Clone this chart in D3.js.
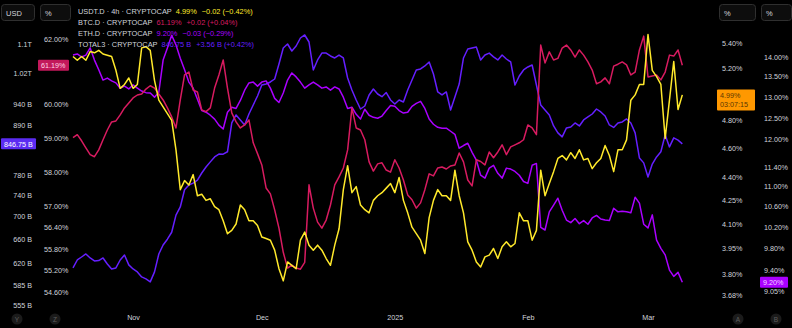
<!DOCTYPE html>
<html><head><meta charset="utf-8">
<script src="https://cdn.jsdelivr.net/npm/d3@7"></script>
<style>
html,body{margin:0;padding:0;background:#000;overflow:hidden}
svg{display:block;font-family:"Liberation Sans",Arial,sans-serif}
</style></head><body>
<svg id="c" width="792" height="328"></svg>
<script>
// ---------- DATA (daily samples from 2024-10-18) ----------
const startDate = "2024-10-18";
const usdtValues = [5.29,5.26,5.29,5.26,5.33,5.32,5.34,5.31,5.30,5.29,
 5.18,5.04,5.07,5.12,5.04,5.07,5.36,5.37,5.34,5.10,
 4.95,4.90,4.85,4.80,4.59,4.32,4.38,4.35,4.42,4.28,
 4.29,4.25,4.26,4.21,4.19,4.12,4.04,4.06,4.10,4.22,
 4.19,4.12,4.12,4.09,4.02,4.01,4.00,3.94,3.83,3.76,
 3.87,3.85,3.83,4.00,4.05,3.97,3.94,3.97,3.94,3.89,
 3.85,3.97,4.07,4.32,4.48,4.30,4.34,4.22,4.19,4.17,
 4.25,4.28,4.30,4.33,4.36,4.30,4.40,4.25,4.17,4.08,
 4.04,4.00,3.92,4.14,4.25,4.32,4.28,4.28,4.25,4.45,
 4.28,4.17,3.99,3.94,3.87,3.84,3.90,3.91,3.95,3.89,
 3.96,3.99,3.96,3.98,4.17,4.12,4.12,4.00,4.06,4.45,
 4.28,4.36,4.44,4.53,4.55,4.52,4.57,4.53,4.59,4.52,
 4.53,4.46,4.50,4.53,4.62,4.55,4.44,4.59,4.59,4.66,
 4.95,4.99,5.07,5.07,5.47,5.18,5.13,5.07,4.67,4.95,
 5.25,4.88,4.99];
const btcValues = [59.00,59.09,58.91,58.70,58.50,58.44,58.64,58.94,59.23,59.47,
 59.50,59.68,59.89,60.04,60.19,60.28,60.31,60.46,60.56,60.49,
 60.31,60.13,59.89,59.62,59.29,60.13,60.89,60.98,60.43,60.37,
 59.83,59.78,59.89,60.49,60.89,61.35,60.49,59.74,59.47,59.29,
 59.38,59.53,58.85,58.53,58.20,57.53,57.36,56.90,56.38,55.70,
 55.26,55.34,55.26,55.23,55.42,57.62,56.95,56.55,56.38,56.61,
 57.04,57.62,57.85,58.11,58.64,59.89,59.29,59.23,58.94,58.29,
 58.02,58.23,58.26,58.05,57.99,58.35,58.11,57.76,57.33,57.19,
 56.95,57.10,57.48,57.94,57.88,58.11,58.14,58.08,58.17,58.20,
 58.55,58.29,57.76,57.59,58.35,58.30,58.20,58.58,58.41,58.58,
 58.79,58.50,58.73,58.79,58.85,58.94,59.38,59.29,59.09,61.81,
 61.26,61.60,61.35,61.40,61.72,61.81,61.66,61.44,61.66,61.50,
 61.29,61.04,60.62,60.68,60.80,60.62,61.16,61.22,61.29,61.20,
 60.89,60.98,61.66,62.09,60.83,60.86,60.89,60.74,60.98,61.50,
 61.47,61.66,61.19];
const ethValues = [14.05,14.08,14.00,14.05,14.24,13.92,13.67,13.41,13.46,13.39,
 13.34,13.21,13.26,13.19,13.29,13.21,13.14,13.10,13.09,12.99,
 13.11,13.92,14.24,14.58,14.32,13.97,13.67,13.36,13.21,12.94,
 12.67,12.63,12.56,12.47,12.33,12.24,12.63,12.75,12.72,12.91,
 13.16,13.34,13.36,13.26,13.36,13.39,13.21,12.96,12.86,13.09,
 13.41,13.59,13.49,13.36,13.21,13.29,13.36,13.29,13.21,13.24,
 13.16,13.24,13.19,12.99,12.72,12.75,12.58,12.47,12.70,12.56,
 12.51,12.49,12.54,12.67,12.79,12.77,12.67,12.61,12.63,12.77,
 12.84,12.89,12.72,12.47,12.35,12.28,12.26,12.26,12.19,12.12,
 11.81,11.87,11.92,11.72,11.55,11.23,11.17,11.38,11.44,11.27,
 11.17,11.38,11.36,11.31,11.23,11.10,11.06,11.44,11.48,10.19,
 10.14,10.49,10.62,10.76,10.52,10.33,10.28,10.36,10.26,10.32,
 10.25,10.37,10.42,10.35,10.33,10.32,10.56,10.49,10.50,10.49,
 10.47,10.78,10.66,10.25,10.18,10.43,9.95,9.80,9.68,9.41,
 9.30,9.37,9.20];
const total3Values = [611.6,624.5,629.4,634.4,627.8,622.9,623.5,627.8,618.0,610.0,
 611.6,624.5,632.7,616.5,610.0,605.3,597.4,594.3,589.7,605.3,
 634.4,649.5,659.5,671.6,702.5,717.6,750.7,760.1,764.0,770.1,
 784.4,796.9,807.6,818.2,824.4,824.0,829.3,894.4,913.3,901.4,
 889.7,915.6,937.5,959.9,987.9,990.5,995.8,1003.6,1043.8,1088.5,
 1100.0,1080.0,1094.3,1117.4,1126.3,1105.8,1027.6,1054.9,1074.3,1074.3,
 1066.0,1060.4,1068.7,1060.4,1006.2,975.1,949.9,927.7,935.0,962.4,
 977.6,964.9,958.0,968.5,949.9,939.9,949.9,944.9,975.1,1001.0,
 1027.6,1030.3,1038.4,1049.4,1016.8,970.0,962.4,970.0,925.3,957.4,
 990.5,1060.4,1085.7,1088.5,1091.4,1054.9,1068.7,1074.0,1063.5,1054.9,
 1068.7,1057.6,1049.4,987.9,1011.5,1027.6,1035.7,1041.1,987.9,937.5,
 925.3,913.3,887.4,871.4,862.4,882.8,885.1,894.4,887.4,901.4,
 908.5,915.6,927.7,920.5,910.9,889.7,884.0,894.4,896.7,903.8,
 894.4,871.4,816.1,805.5,776.2,803.1,818.2,829.3,866.9,840.0,
 860.1,855.0,846.75];

const monthTickDates = ["2024-11-01","2024-12-01","2025-01-01","2025-02-01","2025-03-01"];
const monthTickLabels = ["Nov","Dec","2025","Feb","Mar"];
const total3Ticks = [1100,1020,940,890,780,740,700,660,620,585,555];
const total3TickLabels = ["1.1T","1.02T","940 B","890 B","780 B","740 B","700 B","660 B","620 B","585 B","555 B"];
const btcTicks = [62,60,59,58,57,56.4,55.8,55.2,54.6];
const usdtTicks = [5.4,5.2,4.8,4.6,4.4,4.25,4.1,3.95,3.8,3.68];
const ethTicks = [14,13.5,13,12.5,12,11.4,11,10.6,10.2,9.8,9.4,9.05];

const legendRows = [
  {name:"USDT.D · 4h · CRYPTOCAP", value:"4.99%", change:"−0.02 (−0.42%)", key:"usdt"},
  {name:"BTC.D · CRYPTOCAP", value:"61.19%", change:"+0.02 (+0.04%)", key:"btc"},
  {name:"ETH.D · CRYPTOCAP", value:"9.20%", change:"−0.03 (−0.29%)", key:"eth"},
  {name:"TOTAL3 · CRYPTOCAP", value:"846.75 B", change:"+3.56 B (+0.42%)", key:"total3"}
];

// ---------- SETUP ----------
const colors = {usdt:"#ffe92b", btc:"#d81b60", eth:"#aa00ff", total3:"#651fff"};
const txt = "#d1d4dc";
const svg = d3.select("#c");
svg.append("rect").attr("width",792).attr("height",328).attr("fill","#000");

const parse = d3.utcParse("%Y-%m-%d");
const t0 = parse(startDate);
const dates = usdtValues.map((_, i) => d3.utcDay.offset(t0, i));

const x = d3.scaleUtc().domain([t0, parse("2025-03-01")]).range([73, 648]);
const yTotal3 = d3.scaleLog().domain([555, 1100]).range([305, 44]);
const yBtc = d3.scaleLog().domain([54.6, 62]).range([292, 39]);
const yUsdt = d3.scaleLog().domain([3.68, 5.4]).range([295, 43]);
const yEth = d3.scaleLog().domain([9.05, 14]).range([291, 57]);

// ---------- LINES ----------
const series = [
  {key:"total3", vals:total3Values, y:yTotal3},
  {key:"eth", vals:ethValues, y:yEth},
  {key:"btc", vals:btcValues, y:yBtc},
  {key:"usdt", vals:usdtValues, y:yUsdt}
];
const plot = svg.append("g");
series.forEach(s => {
  const line = d3.line().x((d,i)=>x(dates[i])).y(d=>s.y(d));
  plot.append("path").datum(s.vals).attr("d", line)
    .attr("fill","none").attr("stroke", colors[s.key])
    .attr("stroke-width",1.5).attr("stroke-linejoin","round");
});

// ---------- AXES ----------
function styleAxis(g){
  g.select(".domain").remove();
  g.selectAll("line").remove();
  g.selectAll("text").attr("fill",txt).style("font-size","7.2px")
   .style("font-family",'"Liberation Sans",Arial,sans-serif');
}
svg.append("g").attr("transform","translate(32,0)")
  .call(d3.axisLeft(yTotal3).tickValues(total3Ticks).tickSize(0).tickPadding(0)
        .tickFormat((d,i)=>total3TickLabels[i])).call(styleAxis);
svg.append("g").attr("transform","translate(44,0)")
  .call(d3.axisRight(yBtc).tickValues(btcTicks).tickSize(0).tickPadding(0)
        .tickFormat(d=>d.toFixed(2)+"%")).call(styleAxis);
svg.append("g").attr("transform","translate(722,0)")
  .call(d3.axisRight(yUsdt).tickValues(usdtTicks).tickSize(0).tickPadding(0)
        .tickFormat(d=>d.toFixed(2)+"%")).call(styleAxis);
svg.append("g").attr("transform","translate(764,0)")
  .call(d3.axisRight(yEth).tickValues(ethTicks).tickSize(0).tickPadding(0)
        .tickFormat(d=>d.toFixed(2)+"%")).call(styleAxis);
svg.append("g").attr("transform","translate(0,315)")
  .call(d3.axisBottom(x).tickValues(monthTickDates.map(parse)).tickSize(0).tickPadding(0)
        .tickFormat((d,i)=>monthTickLabels[i])).call(styleAxis);

// ---------- LEGEND ----------
const leg = svg.append("g").style("font-size","7.4px");
legendRows.forEach((r,i) => {
  const t = leg.append("text").attr("x",78).attr("y",13.5 + i*11);
  t.append("tspan").attr("fill",txt).text(r.name);
  t.append("tspan").attr("fill",colors[r.key]).attr("dx",4).text(r.value);
  t.append("tspan").attr("fill",colors[r.key]).attr("dx",5).text(r.change);
});

// ---------- TOP BUTTONS ----------
const btns = [{x:1,w:34,label:"USD"},{x:40,w:31,label:"%"},{x:719,w:37,label:"%"},{x:761,w:31,label:"%"}];
btns.forEach(b => {
  svg.append("rect").attr("x",b.x+0.5).attr("y",4.5).attr("width",b.w-1).attr("height",16)
    .attr("rx",3).attr("fill","#0d0d0d").attr("stroke","#2f2f2f");
  svg.append("text").attr("x",b.x+5).attr("y",15.5).attr("fill",txt)
    .style("font-size","7.5px").text(b.label);
});

// ---------- PRICE LABELS ----------
function priceBox(x0, w, yc, h, fill, lines, tcolor){
  svg.append("rect").attr("x",x0).attr("y",yc-h/2).attr("width",w).attr("height",h)
    .attr("rx",1).attr("fill",fill);
  lines.forEach((l,i)=>{
    svg.append("text").attr("x",x0+3).attr("y",yc-h/2+8.5+i*9).attr("fill",tcolor)
      .style("font-size","7.2px").text(l);
  });
}
const lastI = usdtValues.length-1;
priceBox(38, 31, yBtc(btcValues[lastI]), 11, "#c2185b", ["61.19%"], "#ffd6e6");
priceBox(1, 35, yTotal3(total3Values[lastI]), 11, "#5b2cf2", ["846.75 B"], "#ffffff");
priceBox(717, 38, yUsdt(usdtValues[lastI])+5, 21, "#ff9800", ["4.99%","03:07:15"], "#5a3600");
priceBox(760, 28, yEth(ethValues[lastI]), 11, "#aa00ff", ["9.20%"], "#f5d9ff");

// ---------- BOTTOM BADGES ----------
[{x:17,l:"Y"},{x:55,l:"Z"},{x:738,l:"A"},{x:776,l:"B"}].forEach(b=>{
  svg.append("circle").attr("cx",b.x).attr("cy",319).attr("r",5.5).attr("fill","#1b1b1b");
  svg.append("text").attr("x",b.x).attr("y",321.5).attr("text-anchor","middle")
    .attr("fill","#5e5e5e").style("font-size","6.5px").text(b.l);
});
</script></body></html>
